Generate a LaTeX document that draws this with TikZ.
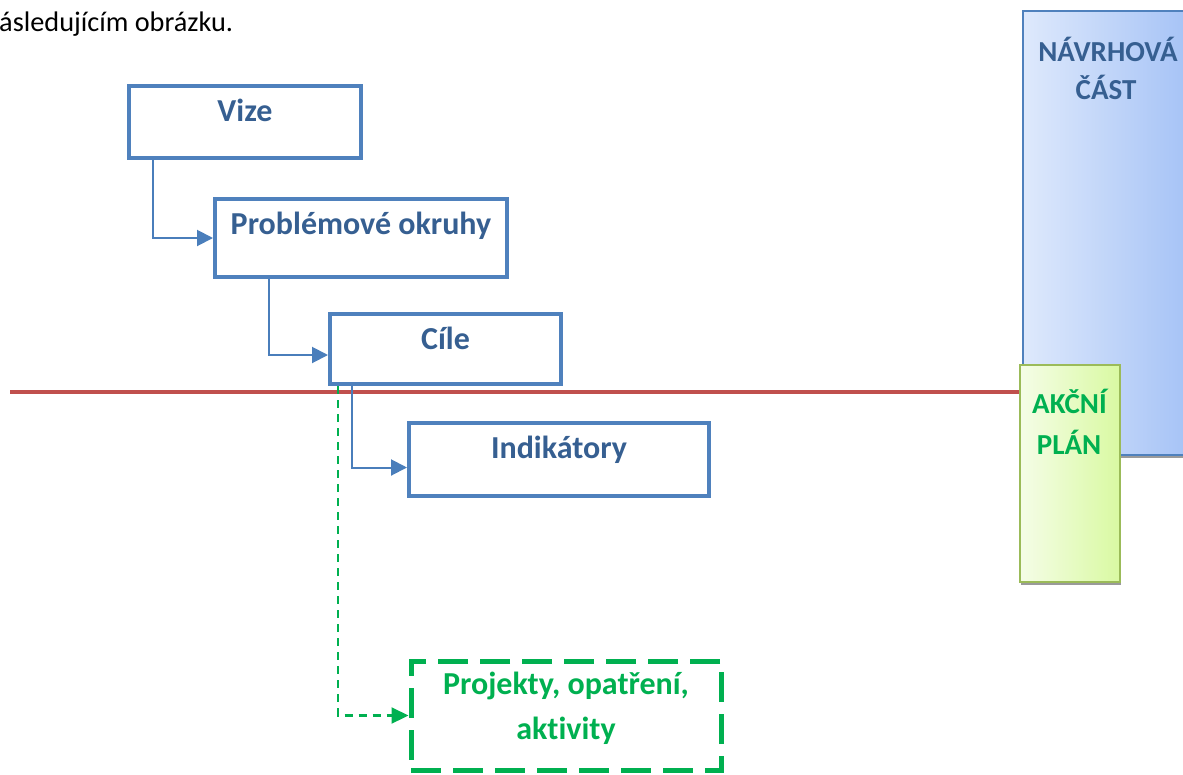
\documentclass[tikz,border=0pt]{standalone}
\usepackage{fontspec}
\setmainfont{Carlito}[Ligatures={NoCommon}]
\usetikzlibrary{arrows.meta,shadows}
\definecolor{boxblue}{HTML}{4F81BD}
\definecolor{txtblue}{HTML}{365F91}
\definecolor{arrblue}{HTML}{4A7EBB}
\definecolor{grn}{HTML}{00B050}
\definecolor{redline}{HTML}{C0504D}
\definecolor{panelblueL}{HTML}{DEE9FC}
\definecolor{panelblueR}{HTML}{A6C3F6}
\definecolor{panelgreenL}{HTML}{F5FDE7}
\definecolor{panelgreenR}{HTML}{D9F9A2}
\definecolor{panelgreenB}{HTML}{9BBB59}
\definecolor{shadowgray}{HTML}{9A9A9A}
\begin{document}
\begin{tikzpicture}[x=1pt,y=-1pt,
  box/.style={draw=boxblue, line width=4pt, inner sep=0pt, text=txtblue,
    font=\fontsize{32}{38}\selectfont\bfseries, text height=35pt},
  conn/.style={draw=arrblue, line width=2pt, -{Triangle[length=16pt,width=16pt]}},
  dconn/.style={draw=grn, line width=2.2pt, dash pattern=on 8pt off 6pt,
    -{Triangle[length=17pt,width=16pt]}},
  projbox/.style={draw=grn, line width=5pt, dash pattern=on 30pt off 12pt, inner sep=0pt},
  projtext/.style={text=grn, font=\fontsize{32}{38}\selectfont\bfseries, anchor=base, inner sep=0pt},
  panel/.style={inner sep=0pt, drop shadow={shadow xshift=1pt, shadow yshift=-3pt, fill=shadowgray, opacity=1}},
  paneltext/.style={font=\fontsize{29}{35}\selectfont\bfseries, anchor=base, inner sep=0pt},
]
\useasboundingbox (0,0) rectangle (1183,774);

% top text
\node[anchor=base west, inner sep=0pt, font=\fontsize{28.3}{34}\selectfont] (intro) at (-1,31) {ásledujícím obrázku.};

% right panels
\node[panel, draw=boxblue, line width=1.5pt, left color=panelblueL, right color=panelblueR,
  minimum width=165pt, minimum height=444pt, anchor=north west] (navrh) at (1022,10) {};
\node[paneltext, text=txtblue] (navrht1) at (1108,61) {NÁVRHOVÁ};
\node[paneltext, text=txtblue] (navrht2) at (1106,99) {ČÁST};

\node[panel, draw=panelgreenB, line width=2pt, left color=panelgreenL, right color=panelgreenR,
  minimum width=100pt, minimum height=217pt] (akce) at (1070,473.5) {};
\node[paneltext, text=grn] (akcet1) at (1069.5,413) {AKČNÍ};
\node[paneltext, text=grn] (akcet2) at (1069,454) {PLÁN};

% red line
\coordinate (rl) at (10,392);
\draw[redline, line width=4pt] (rl) -- (rl -| akce.west);

% boxes
\node[box, minimum width=232pt, minimum height=72pt, text depth=37pt] (vize) at (245,122) {Vize};
\node[box, minimum width=292pt, minimum height=78pt, text depth=43pt] (prob) at (361,238) {Problémové okruhy};
\node[box, minimum width=231pt, minimum height=70pt, text depth=35pt] (cile) at (445.5,349) {Cíle};
\node[box, minimum width=300pt, minimum height=73pt, text depth=38pt] (ind) at (559,459.5) {Indikátory};

\node[projbox, minimum width=310pt, minimum height=109pt] (proj) at (566,715.5) {};
\node[projtext] (projt1) at (566,694) {Projekty, opatření,};
\node[projtext] (projt2) at (566,739) {aktivity};

% connectors
\draw[conn] ([xshift=26pt]vize.south west) |- (prob.west);
\draw[conn] ([xshift=56pt]prob.south west) |- ([yshift=-6pt]cile.west);
\draw[conn] ([xshift=24pt]cile.south west) |- ([yshift=-8pt]ind.west);
\draw[dconn] ([xshift=10pt]cile.south west) |- (proj.west);
\end{tikzpicture}
\end{document}
